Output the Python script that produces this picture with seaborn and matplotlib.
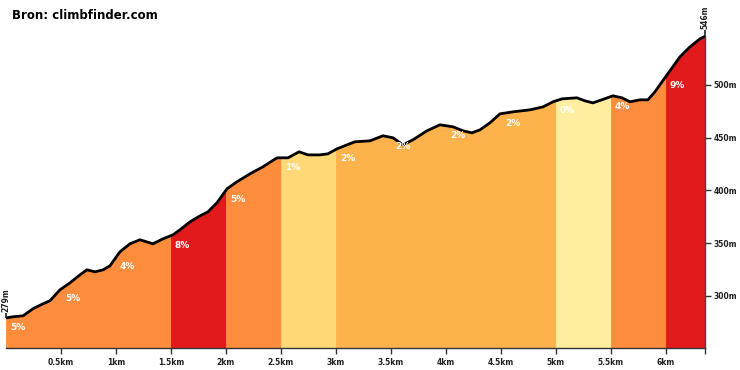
import numpy as np
import pandas as pd
import matplotlib
matplotlib.use("Agg")
import matplotlib.pyplot as plt
import seaborn as sns

# ---- data ----
dist_km = [0.0, 0.064, 0.155, 0.245, 0.336, 0.4, 0.491, 0.582, 0.673, 0.736, 0.809, 0.882,
           0.945, 1.036, 1.127, 1.218, 1.336, 1.427, 1.518, 1.582, 1.673, 1.764, 1.836,
           1.918, 2.009, 2.1, 2.218, 2.336, 2.464, 2.564, 2.664, 2.745, 2.855, 2.927,
           3.009, 3.1, 3.173, 3.309, 3.427, 3.518, 3.609, 3.7, 3.827, 3.945, 4.064,
           4.155, 4.236, 4.309, 4.4, 4.491, 4.609, 4.764, 4.882, 4.973, 5.055, 5.191,
           5.264, 5.336, 5.418, 5.518, 5.6, 5.673, 5.764, 5.836, 5.9, 5.964, 6.055,
           6.127, 6.218, 6.309, 6.355]
elev_m = [279, 280.1, 281.0, 287.7, 292.4, 295.3, 305.7, 312.3, 319.9, 324.6, 322.7, 324.6,
          328.4, 341.7, 349.3, 353.1, 349.3, 354.0, 357.8, 362.6, 370.1, 375.8, 379.6,
          388.2, 401.4, 408.1, 415.6, 422.3, 430.8, 430.8, 436.5, 433.6, 433.6, 434.6,
          439.3, 443.1, 446.0, 446.9, 451.7, 449.8, 443.1, 447.9, 456.4, 462.1, 460.2,
          456.4, 454.5, 457.3, 464.0, 472.5, 474.4, 476.3, 479.1, 483.9, 486.7, 487.7,
          484.8, 482.9, 485.8, 489.6, 487.7, 483.9, 485.8, 485.8, 493.4, 502.8, 516.1,
          526.5, 536.0, 543.6, 546]

seg_start_km = [0.0, 0.5, 1.0, 1.5, 2.0, 2.5, 3.0, 3.5, 4.0, 4.5, 5.0, 5.5, 6.0]
seg_end_km = [0.5, 1.0, 1.5, 2.0, 2.5, 3.0, 3.5, 4.0, 4.5, 5.0, 5.5, 6.0, 6.355]
seg_grade = [5, 5, 4, 8, 5, 1, 2, 2, 2, 2, 0, 4, 9]

grade_colors = {0: "#FFEDA0", 1: "#FED976", 2: "#FEB24C", 3: "#FEB24C",
                4: "#FD8D3C", 5: "#FD8D3C", 6: "#FC4E2A", 7: "#FC4E2A",
                8: "#E31A1C", 9: "#E31A1C"}

x_ticks = [0.5, 1.0, 1.5, 2.0, 2.5, 3.0, 3.5, 4.0, 4.5, 5.0, 5.5, 6.0]
x_tick_labels = ["0.5km", "1km", "1.5km", "2km", "2.5km", "3km", "3.5km", "4km",
                 "4.5km", "5km", "5.5km", "6km"]
y_ticks = [300, 350, 400, 450, 500]
y_tick_labels = ["300m", "350m", "400m", "450m", "500m"]
title = "Bron: climbfinder.com"

# ---- plot ----
sns.set_theme(style="white")
plt.rcParams['font.family'] = ['DejaVu Sans']

fig = plt.figure(figsize=(7.4, 3.7), dpi=100)
ax = fig.add_axes([6 / 740, 22 / 370, 699 / 740, 337 / 370])

ymin, ymax = 250.5, 570.0
d = np.array(dist_km)
e = np.array(elev_m)

for s, t, g in zip(seg_start_km, seg_end_km, seg_grade):
    inner = (d > s) & (d < t)
    xs = np.concatenate([[s], d[inner], [t]])
    ys = np.concatenate([[np.interp(s, d, e)], e[inner], [np.interp(t, d, e)]])
    ax.fill_between(xs, ymin, ys, facecolor=grade_colors[g], edgecolor=grade_colors[g],
                    linewidth=0.6, zorder=1)

df = pd.DataFrame({"km": dist_km, "m": elev_m})
sns.lineplot(data=df, x="km", y="m", ax=ax, color="black", linewidth=2.0,
             sort=False, estimator=None, zorder=3)
for line in ax.lines:
    line.set_solid_joinstyle("round")
    line.set_solid_capstyle("round")

for s, g in zip(seg_start_km, seg_grade):
    yv = np.interp(s, d, e)
    ax.annotate(f"{g}%", (s, yv), xytext=(4, -5), textcoords="offset pixels",
                ha="left", va="top", color="white", fontsize=6.5, fontweight="bold",
                zorder=4)

# start / end markers
px = 1 / 1.055
ax.vlines([0.0], elev_m[0], elev_m[0] + 5 * px, color="#222222", linewidth=1.2,
          zorder=4, clip_on=False)
ax.vlines([dist_km[-1]], elev_m[-1], elev_m[-1] + 6 * px, color="#222222", linewidth=1.2,
          zorder=4, clip_on=False)
ax.annotate(f"{elev_m[0]:.0f}m", (0.0, elev_m[0] + 6 * px), xytext=(0, 0),
            textcoords="offset pixels", rotation=90, ha="center", va="bottom",
            fontsize=5.5, fontweight="bold", color="#222222", clip_on=False)
ax.annotate(f"{elev_m[-1]:.0f}m", (dist_km[-1], elev_m[-1] + 7 * px), xytext=(0, 0),
            textcoords="offset pixels", rotation=90, ha="center", va="bottom",
            fontsize=5.5, fontweight="bold", color="#222222", clip_on=False)

ax.set_xlim(0, 6.355)
ax.set_ylim(ymin, ymax)
ax.set_xlabel("")
ax.set_ylabel("")

ax.set_xticks(x_ticks + [dist_km[-1]])
ax.set_xticklabels(x_tick_labels + [""], fontsize=5.5, fontweight="bold", color="#222222")
ax.yaxis.tick_right()
ax.set_yticks(y_ticks)
ax.set_yticklabels(y_tick_labels, fontsize=5.5, fontweight="bold", color="#222222")
ax.tick_params(axis="x", direction="out", length=4, width=1, color="#333333", pad=3,
               bottom=True)
ax.tick_params(axis="y", direction="out", length=4, width=1, color="#333333", pad=2,
               right=True, left=False)

for side in ["top", "left"]:
    ax.spines[side].set_visible(False)
ax.spines["bottom"].set_color("#333333")
ax.spines["bottom"].set_linewidth(1.0)
ax.spines["right"].set_color("#444444")
ax.spines["right"].set_linewidth(1.0)
ax.spines["right"].set_bounds(ymin, elev_m[-1])
ax.spines["right"].set_zorder(5)

fig.text(12 / 740, 1 - 19 / 370, title, fontsize=8.5, fontweight="bold",
         color="black", ha="left", va="baseline")

fig.savefig("out.png", dpi=100)
